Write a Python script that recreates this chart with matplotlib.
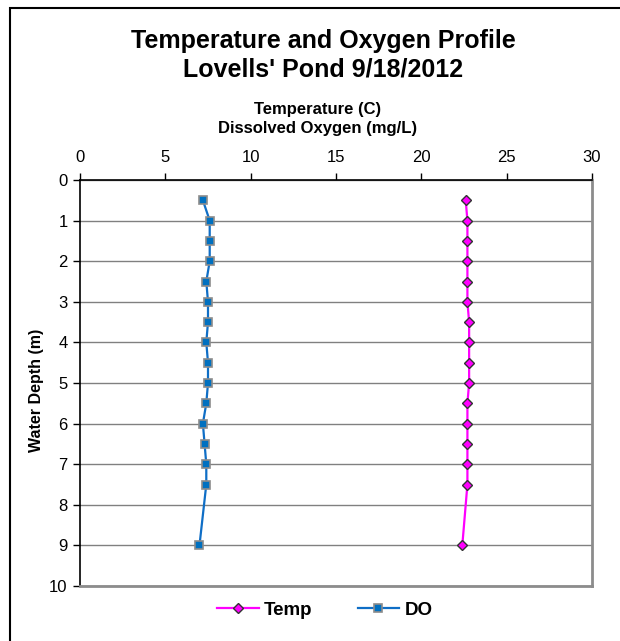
import matplotlib
matplotlib.use("Agg")
import matplotlib.pyplot as plt
from matplotlib.patches import Rectangle

plt.rcParams["font.family"] = ["Liberation Sans", "DejaVu Sans"]

# depth profile, Lovells' Pond 9/18/2012
depth = [0.5, 1, 1.5, 2, 2.5, 3, 3.5, 4, 4.5, 5, 5.5, 6, 6.5, 7, 7.5, 9]
temp = [22.6, 22.7, 22.7, 22.7, 22.7, 22.7, 22.8, 22.8, 22.8, 22.8, 22.7, 22.7, 22.7, 22.7, 22.7, 22.4]
do = [7.2, 7.6, 7.6, 7.6, 7.4, 7.5, 7.5, 7.4, 7.5, 7.5, 7.4, 7.2, 7.3, 7.4, 7.4, 7.0]
x_ticks = [0, 5, 10, 15, 20, 25, 30]
y_ticks = list(range(0, 11))

W, H = 620, 641
fig = plt.figure(figsize=(W / 100, H / 100), dpi=100)

# chart area border (runs off right/bottom edge)
fig.patches.append(Rectangle((10 / W, -0.1), 1.2, 1 - 8 / H + 0.1,
                             transform=fig.transFigure, fill=False,
                             edgecolor="black", linewidth=1.5))

ax = fig.add_axes([80 / W, 1 - 586 / H, 512 / W, 406 / H])

ax.plot(temp, depth, color="#FF00FF", linewidth=1.6, marker="D",
        markersize=5.5, markerfacecolor="#FF00FF", markeredgecolor="#333333",
        markeredgewidth=1.0, label="Temp", zorder=3)
ax.plot(do, depth, color="#0F6EC6", linewidth=1.6, marker="s",
        markersize=6, markerfacecolor="#0070C0", markeredgecolor="#8C8C8C",
        markeredgewidth=1.2, label="DO", zorder=3)

ax.set_xlim(0, 30)
ax.set_ylim(10, 0)
ax.set_xticks(x_ticks)
ax.set_yticks(y_ticks)
ax.xaxis.tick_top()
ax.tick_params(axis="both", labelsize=12, length=5, width=1, direction="out", pad=4)
ax.tick_params(axis="x", top=True, bottom=False, pad=6)
ax.yaxis.grid(True, color="#808080", linewidth=1)
ax.set_axisbelow(True)

for side in ("left", "top"):
    ax.spines[side].set_color("black")
    ax.spines[side].set_linewidth(1.2)
for side in ("right", "bottom"):
    ax.spines[side].set_color("#8C8C8C")
    ax.spines[side].set_linewidth(2)

ax.set_ylabel("Water Depth (m)", fontsize=11.5, fontweight="bold")
ax.yaxis.set_label_coords(-0.07, 0.483)

fig.text(323 / W, 1 - 55 / H, "Temperature and Oxygen Profile\nLovells' Pond 9/18/2012",
         ha="center", va="center", fontsize=18, fontweight="bold", linespacing=1.25)
fig.text(318 / W, 1 - 119 / H, "Temperature (C)\nDissolved Oxygen (mg/L)",
         ha="center", va="center", fontsize=12, fontweight="bold", linespacing=1.4)

fig.legend(loc="center", bbox_to_anchor=(325 / W, 1 - 610 / H), ncol=2,
           frameon=False, prop={"size": 13.5, "weight": "bold"},
           handlelength=2.2, columnspacing=2.4, handletextpad=0.3)

fig.savefig("out.png", dpi=100)
